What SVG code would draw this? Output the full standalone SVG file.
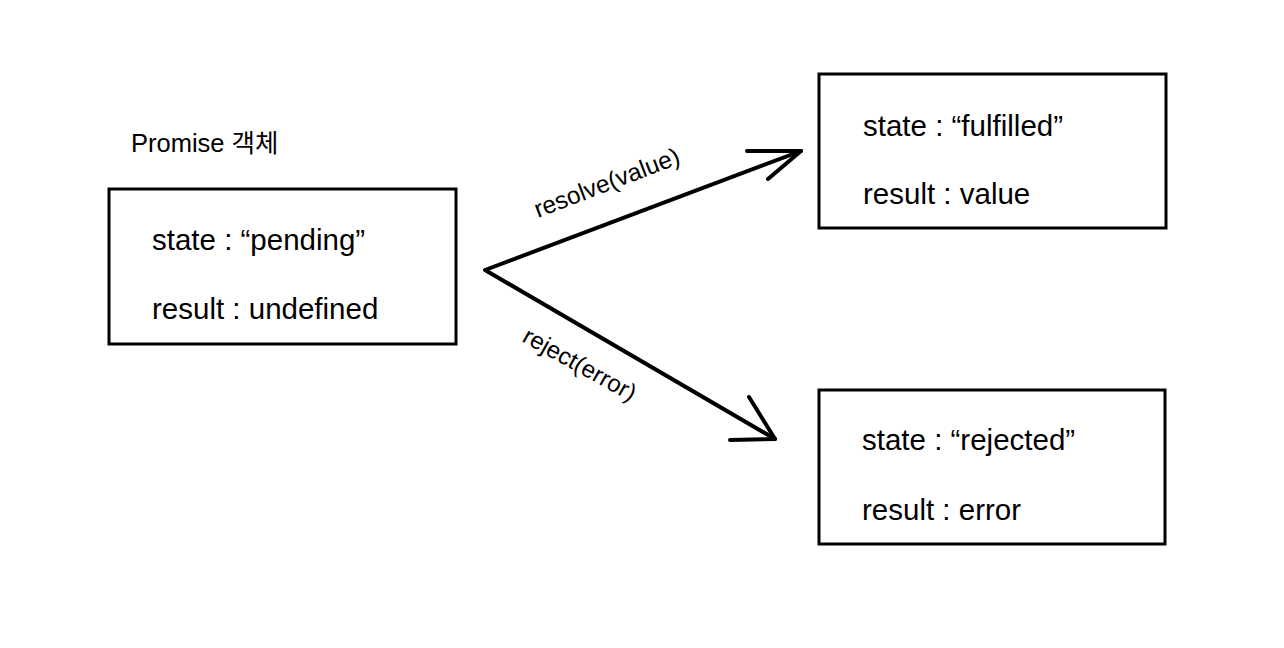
<svg xmlns="http://www.w3.org/2000/svg" width="1284" height="648" viewBox="0 0 1284 648">
<style>
.box{fill:#fff;stroke:#000;stroke-width:3}
.t{font-family:"Liberation Sans",Arial,sans-serif;font-size:29.5px;fill:#000}
.cap{font-family:"Liberation Sans","Noto Sans CJK KR",sans-serif;font-size:25.5px;fill:#000}
.lbl{font-family:"Liberation Sans",Arial,sans-serif;font-size:24px;fill:#000}
.ln{fill:none;stroke:#000;stroke-width:4;stroke-linecap:round;stroke-linejoin:round}
</style>
<rect width="1284" height="648" fill="#fff"/>
<g id="caption"><text class="cap" x="131" y="152">Promise 객체</text></g>
<g id="pending">
<rect class="box" x="109" y="189" width="347" height="155"/>
<text class="t" x="152" y="250">state : “pending”</text>
<text class="t" x="152" y="319">result : undefined</text>
</g>
<g id="fulfilled">
<rect class="box" x="819" y="74" width="347" height="154"/>
<text class="t" x="863" y="136">state : “fulfilled”</text>
<text class="t" x="863" y="204">result : value</text>
</g>
<g id="rejected">
<rect class="box" x="819" y="390" width="346" height="154"/>
<text class="t" x="862" y="450">state : “rejected”</text>
<text class="t" x="862" y="520">result : error</text>
</g>
<g id="connectors">
<polyline class="ln" points="801,151 485,270 775,439"/>
<polyline class="ln" points="747,151 801,151 768,179"/>
<polyline class="ln" points="749,397 775,439 730,440"/>
<text class="lbl" transform="translate(538,218) rotate(-21)" style="font-size:24.5px">resolve(value)</text>
<text class="lbl" transform="translate(521,341) rotate(29)">reject(error)</text>
</g>
</svg>
